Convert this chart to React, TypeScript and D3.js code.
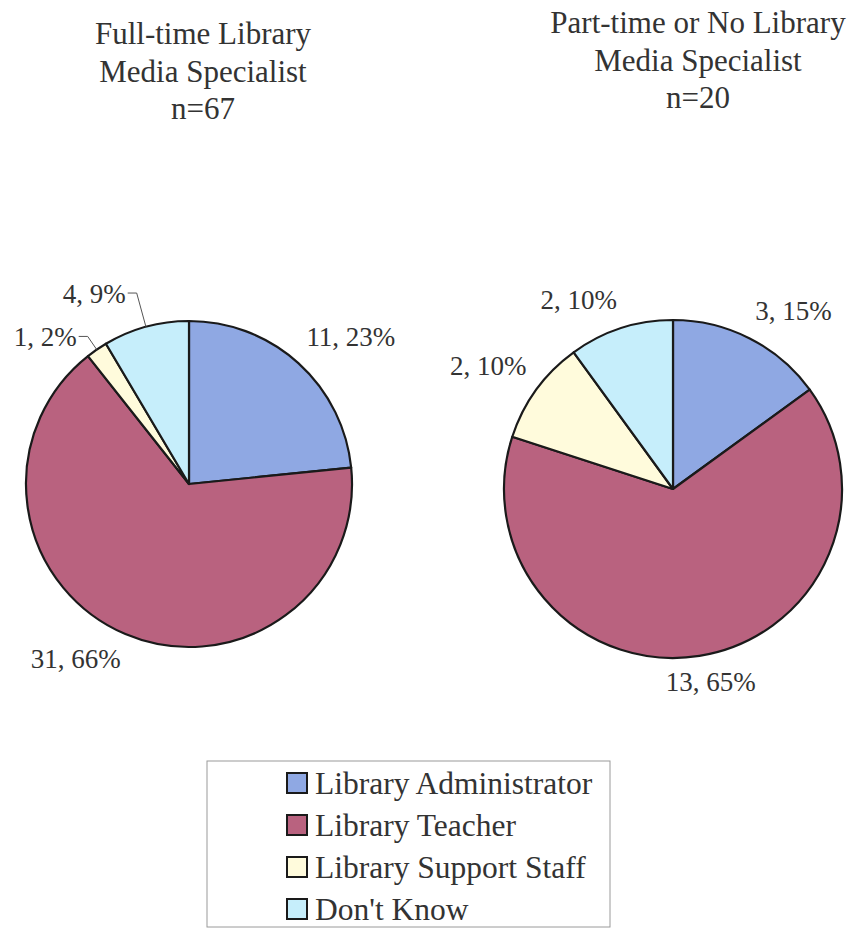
import React from "react";
import * as d3 from "d3";

const categories = ["Library Administrator", "Library Teacher", "Library Support Staff", "Don't Know"];
const colors = ["#8fa8e3", "#b9627f", "#fffbdc", "#c6eefb"];

const fullTimeCounts = [11, 31, 1, 4];
const fullTimePct = [23, 66, 2, 9];
const partTimeCounts = [3, 13, 2, 2];
const partTimePct = [15, 65, 10, 10];

const fullTimeTitle = ["Full-time Library", "Media Specialist", "n=67"];
const partTimeTitle = ["Part-time or No Library", "Media Specialist", "n=20"];

// layout only
const W = 856;
const H = 929;
const FONT = "'Liberation Serif', 'Times New Roman', Times, serif";
const TEXT = "#333";
const LABEL_SIZE = 27;

type PieProps = {
  cx: number;
  cy: number;
  r: number;
  counts: number[];
  pct: number[];
  leaderExt: (number | null)[];
  title: string[];
  titleX: number;
  titleY: number;
};

function Pie({ cx, cy, r, counts, pct, leaderExt, title, titleX, titleY }: PieProps) {
  const pie = d3.pie<number>().sort(null).value((d) => d);
  const arcs = pie(counts);
  const arc = d3.arc<d3.PieArcDatum<number>>().innerRadius(0).outerRadius(r);
  const fmt = (i: number) => `${counts[i]}, ${pct[i]}%`;
  return (
    <g>
      {title.map((t, i) => (
        <text key={i} x={titleX} y={titleY + i * 37.5} textAnchor="middle" fontFamily={FONT} fontSize={31} fill={TEXT}>
          {t}
        </text>
      ))}
      <g transform={`translate(${cx},${cy})`}>
        {arcs.map((a, i) => (
          <path key={i} d={arc(a) || ""} fill={colors[i]} stroke="#1a1a1a" strokeWidth={2.2} strokeLinejoin="round" />
        ))}
        {arcs.map((a, i) => {
          const mid = (a.startAngle + a.endAngle) / 2;
          const s = Math.sin(mid);
          const c = Math.cos(mid);
          const ext = leaderExt[i];
          if (ext != null) {
            const ex = s * r, ey = -c * r;
            const kx = s * (r + ext), ky = -c * (r + ext);
            const hx = kx - 9;
            return (
              <g key={i}>
                <polyline points={`${ex},${ey} ${kx},${ky} ${hx},${ky}`} fill="none" stroke="#555" strokeWidth={1} />
                <text x={hx - 2} y={ky} dy="0.35em" textAnchor="end" fontFamily={FONT} fontSize={LABEL_SIZE} fill={TEXT}>
                  {fmt(i)}
                </text>
              </g>
            );
          }
          const R = r + 12;
          const px = s * R, py = -c * R;
          const anchor = s > 0.3 ? "start" : s < -0.3 ? "end" : "middle";
          const dx = anchor === "middle" ? s * 60 : 0;
          const dy = c > 0.3 ? "-0.3em" : c < -0.3 ? "0.85em" : "0.35em";
          return (
            <text key={i} x={px} y={py} dx={dx} dy={dy} textAnchor={anchor} fontFamily={FONT} fontSize={LABEL_SIZE} fill={TEXT}>
              {fmt(i)}
            </text>
          );
        })}
      </g>
    </g>
  );
}

export default function App() {
  const legendX = 207;
  const legendY = 761;
  const legendW = 403;
  const legendH = 166;
  const rowY = d3.scalePoint<string>().domain(categories).range([783, 909]);
  return (
    <svg width={W} height={H} style={{ position: "absolute", left: 0, top: 0, background: "#fff" }}>
      <rect width={W} height={H} fill="#fff" />
      <Pie
        cx={189}
        cy={484}
        r={163}
        counts={fullTimeCounts}
        pct={fullTimePct}
        leaderExt={[null, null, 16, 35]}
        title={fullTimeTitle}
        titleX={203}
        titleY={44}
      />
      <Pie
        cx={673}
        cy={489}
        r={169}
        counts={partTimeCounts}
        pct={partTimePct}
        leaderExt={[null, null, null, null]}
        title={partTimeTitle}
        titleX={698}
        titleY={33}
      />
      <rect x={legendX} y={legendY} width={legendW} height={legendH} fill="#fff" stroke="#9a9a9a" strokeWidth={1} />
      {categories.map((c, i) => {
        const y = rowY(c) as number;
        return (
          <g key={c}>
            <rect x={287} y={y - 10} width={20} height={20} fill={colors[i]} stroke="#1a1a1a" strokeWidth={2} />
            <text x={315} y={y} dy="0.35em" fontFamily={FONT} fontSize={31.5} fill={TEXT}>
              {c}
            </text>
          </g>
        );
      })}
    </svg>
  );
}
